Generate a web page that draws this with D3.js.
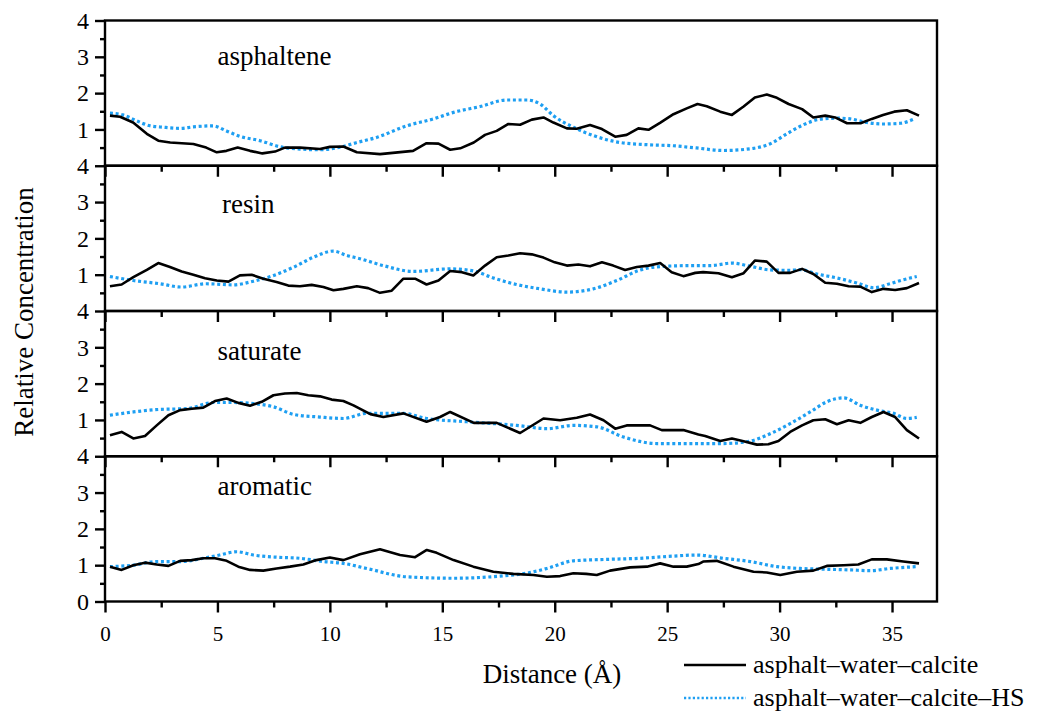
<!DOCTYPE html>
<html>
<head>
<meta charset="utf-8">
<script src="https://cdn.jsdelivr.net/npm/d3@7"></script>
<style>
  html, body { margin: 0; padding: 0; background: #ffffff; }
  svg { display: block; font-family: "Liberation Serif", "Times New Roman", serif; }
</style>
</head>
<body>
<svg id="chart" width="1037" height="714"></svg>
<script>
// Component names, one stacked panel each
const components = ["asphaltene", "resin", "saturate", "aromatic"];
const seriesNames = ["asphalt\u2013water\u2013calcite", "asphalt\u2013water\u2013calcite\u2013HS"];
const xTickValues = [0, 5, 10, 15, 20, 25, 30, 35];
const yTickValues = [0, 1, 2, 3, 4];

// [distance (Å), relative concentration]
const asphalteneAWC = [[0.22,1.38],[0.67,1.35],[1.25,1.19],[1.86,0.88],[2.37,0.69],[2.9,0.64],[3.93,0.6],[4.5,0.5],[4.97,0.37],[5.4,0.41],[5.9,0.5],[6.45,0.41],[7.0,0.34],[7.56,0.39],[8.0,0.5],[8.67,0.5],[9.56,0.46],[10.0,0.52],[10.6,0.53],[11.2,0.37],[12.23,0.32],[13.7,0.41],[14.3,0.62],[14.83,0.61],[15.35,0.44],[15.8,0.48],[16.4,0.64],[16.9,0.85],[17.42,0.96],[17.94,1.15],[18.46,1.13],[18.98,1.27],[19.5,1.33],[19.94,1.19],[20.54,1.03],[20.98,1.02],[21.57,1.12],[22.1,1.01],[22.69,0.8],[23.2,0.85],[23.72,1.03],[24.17,0.99],[24.7,1.19],[25.28,1.42],[25.87,1.58],[26.35,1.7],[26.76,1.64],[27.36,1.49],[27.88,1.4],[28.4,1.63],[28.9,1.88],[29.43,1.96],[29.88,1.87],[30.4,1.7],[31.0,1.56],[31.5,1.33],[32.03,1.38],[32.47,1.33],[33.0,1.17],[33.6,1.17],[34.1,1.29],[34.6,1.4],[35.1,1.49],[35.66,1.53],[36.2,1.38]];
const asphalteneHS = [[0.22,1.45],[0.8,1.4],[1.4,1.24],[2.0,1.1],[2.6,1.06],[3.34,1.03],[3.93,1.07],[4.8,1.1],[5.4,0.96],[6.0,0.81],[6.9,0.69],[7.8,0.52],[8.67,0.46],[9.56,0.44],[10.45,0.51],[11.2,0.64],[12.08,0.78],[13.42,1.1],[14.6,1.29],[15.5,1.47],[16.68,1.63],[17.87,1.81],[18.76,1.81],[19.35,1.7],[19.94,1.38],[20.83,1.06],[21.72,0.83],[22.9,0.64],[24.1,0.58],[25.28,0.55],[26.3,0.49],[27.5,0.42],[28.84,0.48],[29.6,0.61],[30.3,0.87],[31.06,1.13],[31.8,1.28],[32.55,1.31],[33.14,1.29],[33.88,1.19],[34.6,1.15],[35.37,1.17],[36.0,1.29]];

const resinAWC = [[0.22,0.68],[0.74,0.73],[1.26,0.93],[1.86,1.13],[2.37,1.32],[2.89,1.21],[3.41,1.09],[3.93,1.0],[4.45,0.9],[4.97,0.84],[5.49,0.81],[6.0,0.98],[6.52,1.0],[7.04,0.89],[7.63,0.8],[8.15,0.7],[8.67,0.68],[9.19,0.72],[9.71,0.66],[10.16,0.57],[10.6,0.61],[11.2,0.68],[11.7,0.63],[12.23,0.5],[12.75,0.56],[13.27,0.89],[13.79,0.89],[14.3,0.73],[14.83,0.84],[15.35,1.1],[15.87,1.07],[16.38,0.98],[16.9,1.25],[17.42,1.48],[17.94,1.53],[18.46,1.59],[18.98,1.56],[19.5,1.47],[20.0,1.34],[20.54,1.25],[21.05,1.28],[21.57,1.23],[22.1,1.34],[22.6,1.25],[23.13,1.13],[23.65,1.21],[24.17,1.25],[24.69,1.32],[25.2,1.07],[25.72,0.96],[26.25,1.05],[26.6,1.07],[27.28,1.04],[27.88,0.93],[28.4,1.04],[28.9,1.39],[29.43,1.36],[29.95,1.05],[30.47,1.05],[31.0,1.16],[31.5,1.02],[32.03,0.78],[32.55,0.75],[33.07,0.68],[33.59,0.67],[34.1,0.52],[34.62,0.61],[35.14,0.58],[35.66,0.63],[36.2,0.77]];
const resinHS = [[0.22,0.95],[1.26,0.84],[2.45,0.75],[3.4,0.66],[4.5,0.75],[5.7,0.72],[6.6,0.82],[7.5,0.98],[8.4,1.21],[9.27,1.48],[10.16,1.65],[10.75,1.53],[11.34,1.44],[12.38,1.25],[13.7,1.09],[15.35,1.16],[16.4,1.1],[17.27,0.91],[18.3,0.73],[19.35,0.61],[20.54,0.52],[21.72,0.61],[22.76,0.84],[23.8,1.13],[24.83,1.23],[26.17,1.25],[26.9,1.25],[27.88,1.32],[28.7,1.23],[29.6,1.13],[30.47,1.12],[30.9,1.14],[31.66,1.02],[32.55,0.91],[33.44,0.77],[34.2,0.64],[34.9,0.75],[35.5,0.86],[36.1,0.95]];

const saturateAWC = [[0.22,0.58],[0.74,0.67],[1.26,0.49],[1.78,0.56],[2.3,0.85],[2.82,1.13],[3.34,1.27],[3.86,1.31],[4.37,1.34],[4.89,1.52],[5.41,1.59],[5.93,1.47],[6.45,1.39],[6.97,1.5],[7.49,1.68],[8.0,1.73],[8.53,1.74],[9.04,1.68],[9.56,1.65],[10.08,1.56],[10.6,1.52],[11.05,1.4],[11.8,1.16],[12.38,1.08],[13.27,1.18],[14.3,0.95],[14.9,1.08],[15.35,1.22],[16.4,0.92],[17.42,0.92],[18.46,0.64],[19.5,1.04],[20.24,0.99],[20.98,1.06],[21.57,1.15],[22.17,0.99],[22.69,0.76],[23.2,0.85],[24.24,0.85],[24.76,0.72],[25.72,0.72],[26.39,0.6],[26.69,0.56],[27.36,0.42],[27.88,0.49],[28.4,0.41],[28.99,0.32],[29.5,0.33],[29.95,0.42],[30.47,0.67],[31.0,0.85],[31.5,0.99],[32.03,1.02],[32.55,0.88],[33.07,0.99],[33.59,0.92],[34.1,1.08],[34.62,1.22],[35.14,1.08],[35.66,0.72],[36.2,0.49]];
const saturateHS = [[0.22,1.13],[1.26,1.22],[2.45,1.29],[3.63,1.31],[4.82,1.48],[5.7,1.48],[6.6,1.45],[7.5,1.36],[8.4,1.15],[9.56,1.08],[10.6,1.04],[11.64,1.18],[13.27,1.18],[14.3,1.04],[16.09,0.95],[18.31,0.85],[19.65,0.76],[20.83,0.85],[21.87,0.81],[23.06,0.53],[24.54,0.35],[26.39,0.35],[27.5,0.35],[28.7,0.42],[29.58,0.62],[30.47,0.9],[31.36,1.22],[32.1,1.5],[32.85,1.61],[33.6,1.4],[34.33,1.27],[35.07,1.18],[35.66,1.04],[36.1,1.07]];

const aromaticAWC = [[0.22,0.96],[0.74,0.87],[1.26,1.0],[1.78,1.07],[2.3,1.02],[2.82,0.98],[3.34,1.12],[3.86,1.14],[4.37,1.19],[4.89,1.19],[5.41,1.12],[5.93,0.96],[6.45,0.87],[7.04,0.85],[7.63,0.91],[8.23,0.96],[8.82,1.02],[9.4,1.14],[10.0,1.21],[10.6,1.14],[11.34,1.3],[12.23,1.44],[13.12,1.28],[13.79,1.22],[14.31,1.42],[14.75,1.34],[15.5,1.14],[16.38,0.96],[17.27,0.82],[18.16,0.76],[19.05,0.73],[19.65,0.68],[20.24,0.7],[20.83,0.78],[21.4,0.76],[21.87,0.73],[22.46,0.85],[23.35,0.94],[24.1,0.96],[24.69,1.05],[25.28,0.96],[25.87,0.96],[26.39,1.03],[26.6,1.1],[27.2,1.12],[27.95,0.96],[28.84,0.82],[29.43,0.8],[30.03,0.73],[30.77,0.82],[31.5,0.85],[32.1,0.98],[32.85,1.0],[33.5,1.02],[34.1,1.16],[34.77,1.16],[35.5,1.1],[36.2,1.05]];
const aromaticHS = [[0.22,0.96],[1.26,1.0],[2.3,1.1],[3.34,1.1],[4.37,1.19],[5.1,1.28],[5.86,1.37],[6.6,1.28],[7.63,1.22],[8.67,1.19],[9.71,1.1],[10.6,1.05],[11.64,0.91],[13.42,0.68],[15.5,0.64],[17.57,0.7],[18.76,0.78],[19.65,0.91],[20.83,1.12],[22.32,1.16],[23.8,1.19],[25.28,1.25],[26.3,1.28],[27.5,1.19],[28.7,1.1],[29.88,0.96],[30.92,0.91],[31.95,0.89],[33.14,0.87],[34.03,0.85],[34.92,0.91],[36.1,0.96]];

const panelData = [
  [asphalteneAWC, asphalteneHS],
  [resinAWC, resinHS],
  [saturateAWC, saturateHS],
  [aromaticAWC, aromaticHS]
];
// label anchor per panel, in data units [distance, concentration]
const labelPos = [[5.0, 2.77], [5.2, 2.7], [5.0, 2.65], [5.0, 2.93]];

const svg = d3.select("#chart");
const plotLeft = 105, plotRight = 937, plotTop = 20.5, panelH = 145.25;
const blue = "#1e9ff2";

const x = d3.scaleLinear().domain([0, 37]).range([plotLeft, plotRight]);

components.forEach((name, i) => {
  const y0 = plotTop + i * panelH;
  const y = d3.scaleLinear().domain([0, 4]).range([y0 + panelH, y0]);
  const g = svg.append("g");
  const last = i === components.length - 1;

  // series lines
  const line = d3.line().x(d => x(d[0])).y(d => y(d[1]));
  g.append("path").datum(panelData[i][1])
    .attr("fill", "none").attr("stroke", blue).attr("stroke-width", 3.2)
    .attr("stroke-dasharray", "3,2.7")
    .attr("d", line.curve(d3.curveMonotoneX));
  g.append("path").datum(panelData[i][0])
    .attr("fill", "none").attr("stroke", "#000").attr("stroke-width", 2.6)
    .attr("stroke-linejoin", "round")
    .attr("d", line.curve(d3.curveLinear));

  // y axis, major and minor ticks
  g.append("g").attr("class", "yaxis").attr("transform", `translate(${plotLeft},0)`)
    .call(d3.axisLeft(y).tickValues(last ? yTickValues : yTickValues.slice(1))
      .tickSize(10).tickPadding(6).tickFormat(d3.format("d")));
  g.append("g").attr("transform", `translate(${plotLeft},0)`)
    .call(d3.axisLeft(y).tickValues(d3.range(0.5, 4, 1)).tickSize(5).tickFormat(""));

  // x axis along panel bottom, ticks pointing down
  g.append("g").attr("class", "xaxis").attr("transform", `translate(0,${y0 + panelH})`)
    .call(d3.axisBottom(x).tickValues(xTickValues).tickSize(11).tickPadding(14)
      .tickFormat(last ? d3.format("d") : ""));
  g.append("g").attr("transform", `translate(0,${y0 + panelH})`)
    .call(d3.axisBottom(x).tickValues(d3.range(2.5, 37, 5)).tickSize(6).tickFormat(""));

  // panel frame
  g.append("rect").attr("x", plotLeft).attr("y", y0).attr("width", plotRight - plotLeft).attr("height", panelH)
    .attr("fill", "none").attr("stroke", "#000").attr("stroke-width", 2.4);

  // component label
  g.append("text").attr("x", x(labelPos[i][0])).attr("y", y(labelPos[i][1]))
    .attr("font-size", 27).attr("fill", "#000").text(name);
});

svg.selectAll(".domain").remove();
svg.selectAll(".tick line").attr("stroke", "#000").attr("stroke-width", 2.4);
svg.selectAll(".tick text").attr("fill", "#000")
  .attr("font-family", "Liberation Serif, Times New Roman, serif");
svg.selectAll(".yaxis .tick text").attr("font-size", 24);
svg.selectAll(".xaxis .tick text").attr("font-size", 21);

// axis titles
svg.append("text").attr("x", 552).attr("y", 683).attr("text-anchor", "middle")
  .attr("font-size", 27).text("Distance (\u00c5)");
svg.append("text").attr("transform", "translate(33,312) rotate(-90)")
  .attr("text-anchor", "middle").attr("font-size", 27).text("Relative Concentration");

// legend
const legend = svg.append("g");
const legendRows = [
  { y: 665, color: "#000", width: 2.6, dash: null },
  { y: 698, color: blue, width: 2.4, dash: "2.2,2.2" }
];
legendRows.forEach((r, k) => {
  legend.append("line").attr("x1", 684).attr("x2", 746).attr("y1", r.y).attr("y2", r.y)
    .attr("stroke", r.color).attr("stroke-width", r.width)
    .attr("stroke-dasharray", r.dash);
  legend.append("text").attr("x", 753).attr("y", r.y + 8).attr("font-size", 26)
    .text(seriesNames[k]);
});
</script>
</body>
</html>
